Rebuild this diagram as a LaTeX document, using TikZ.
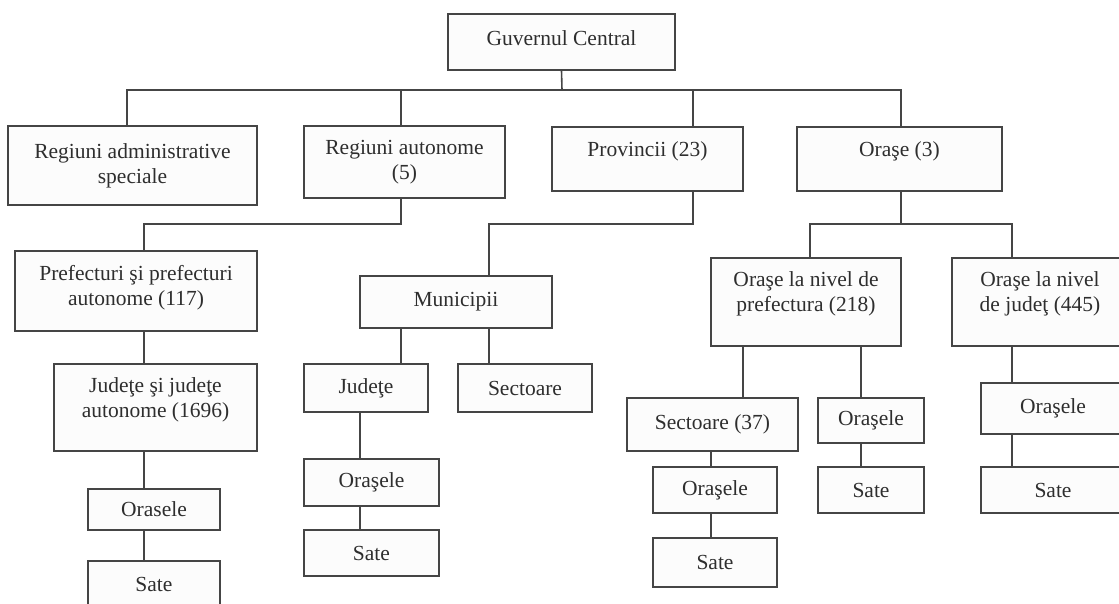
\documentclass[tikz,border=0pt]{standalone}
\usepackage{fontspec}
\setmainfont{Liberation Serif}
\usepackage{tikz}
\usetikzlibrary{positioning,backgrounds}

\definecolor{linegray}{HTML}{454545}
\definecolor{textgray}{HTML}{2E2E2E}
\definecolor{boxfill}{HTML}{FCFCFC}

\begin{document}
\begin{tikzpicture}[
  x=1pt, y=-1pt,
  unit/.style={rectangle, draw=linegray, fill=boxfill, line width=1.6pt, inner sep=0pt, align=center, text=textgray, font=\fontsize{21.5}{25}\selectfont},
  sz/.style 2 args={minimum width=#1, minimum height=#2},
  lift/.style={text depth=#1},
  link/.style={draw=linegray, line width=1.6pt}
]
\useasboundingbox (0,0) rectangle (1119,603);
\clip (0,0) rectangle (1119,603);

\node[unit, sz={227}{56}, lift=8pt] (gov) at (561.5,42) {Guvernul Central};
\node[unit, sz={249}{79}] (ras) at (132.5,165.5) {Regiuni administrative\\speciale};
\node[unit, sz={201}{72}] (ra) at (404.5,162) {Regiuni autonome\\(5)};
\node[unit, sz={191}{64}, lift=19pt] (prov) at (647.5,159) {Provincii (23)};
\node[unit, sz={205}{64}, lift=19pt] (oras) at (899.5,159) {Oraşe (3)};

\node[unit, sz={242}{80}, lift=12pt] (pref) at (136,291) {Prefecturi şi prefecturi\\autonome (117)};
\node[unit, sz={192}{52}] (mun) at (456,302) {Municipii};
\node[unit, sz={190}{88}, lift=20pt] (onp) at (806,302) {Oraşe la nivel de\\prefectura (218)};
\node[unit, sz={176}{88}, lift=20pt] (onj) at (1040,302) {Oraşe la nivel\\de judeţ (445)};

\node[unit, sz={203}{87}, lift=19pt] (jud) at (155.5,407.5) {Judeţe şi judeţe\\autonome (1696)};
\node[unit, sz={124}{48}] (judm) at (366,388) {Judeţe};
\node[unit, sz={134}{48}] (sectm) at (525,388) {Sectoare};
\node[unit, sz={171}{53}] (sect37) at (712.5,424.5) {Sectoare (37)};
\node[unit, sz={106}{45}] (orpref) at (871,420.5) {Oraşele};
\node[unit, sz={144}{51}] (orj) at (1053,408.5) {Oraşele};

\node[unit, sz={132}{41}] (or1) at (154,509.5) {Orasele};
\node[unit, sz={135}{47}] (or2) at (371.5,482.5) {Oraşele};
\node[unit, sz={124}{46}] (or3) at (715,490) {Oraşele};

\node[unit, sz={132}{58}, lift=12pt] (sat1) at (154,590) {Sate};
\node[unit, sz={135}{46}] (sat2) at (371.5,553) {Sate};
\node[unit, sz={124}{49}] (sat3) at (715,562.5) {Sate};
\node[unit, sz={106}{46}] (sat4) at (871,490) {Sate};
\node[unit, sz={144}{46}] (sat5) at (1053,490) {Sate};

\begin{scope}[on background layer]
\coordinate (bus) at (562,90);
\draw[link] (gov.south) -- (bus);
\draw[link] ([xshift=-5.5pt]ras.north) |- (bus);
\draw[link] ([xshift=-3.5pt]ra.north) |- (bus);
\draw[link] ([xshift=45.5pt]prov.north) |- (bus);
\draw[link] ([xshift=1.5pt]oras.north) |- (bus);

\draw[link] ([xshift=-3.5pt]ra.south) -- ++(0,25) -| ([xshift=8pt]pref.north);
\draw[link] ([xshift=45.5pt]prov.south) -- ++(0,32) -| ([xshift=33pt]mun.north);
\draw[link] ([xshift=1.5pt]oras.south) -- ++(0,32) coordinate (split) -| ([xshift=4pt]onp.north);
\draw[link] (split) -| ([xshift=-28pt]onj.north);

\draw[link] ([xshift=8pt]pref.south) coordinate (p) -- (p |- jud.north);
\draw[link] ([xshift=-11.5pt]jud.south) coordinate (p) -- (p |- or1.north);
\draw[link] ([xshift=-10pt]or1.south) coordinate (p) -- (p |- sat1.north);

\draw[link] ([xshift=-55pt]mun.south) coordinate (p) -- (p |- judm.north);
\draw[link] ([xshift=33pt]mun.south) coordinate (p) -- (p |- sectm.north);
\draw[link] ([xshift=-6pt]judm.south) coordinate (p) -- (p |- or2.north);
\draw[link] ([xshift=-11.5pt]or2.south) coordinate (p) -- (p |- sat2.north);

\draw[link] ([xshift=-63pt]onp.south) coordinate (p) -- (p |- sect37.north);
\draw[link] ([xshift=55pt]onp.south) coordinate (p) -- (p |- orpref.north);
\draw[link] ([xshift=-1.5pt]sect37.south) coordinate (p) -- (p |- or3.north);
\draw[link] ([xshift=-4pt]or3.south) coordinate (p) -- (p |- sat3.north);
\draw[link] ([xshift=-10pt]orpref.south) coordinate (p) -- (p |- sat4.north);

\draw[link] ([xshift=-28pt]onj.south) coordinate (p) -- (p |- orj.north);
\draw[link] ([xshift=-41pt]orj.south) coordinate (p) -- (p |- sat5.north);
\end{scope}
\end{tikzpicture}
\end{document}
